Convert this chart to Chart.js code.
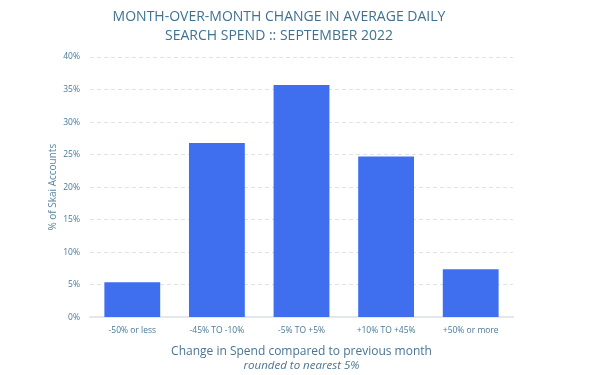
<!DOCTYPE html>
<html lang="en">
<head>
    <meta charset="UTF-8">
    <title>Month-over-month change in average daily search spend</title>
    <script src="https://cdn.jsdelivr.net/npm/chart.js"></script>
    <style>
        body {
            margin: 0;
            background: #fff;
        }
        #wrap {
            width: 600px;
            height: 375px;
        }
    </style>
</head>
<body>
    <div id="wrap">
        <canvas id="spendChart" width="600" height="375"></canvas>
    </div>

    <script>
        const categories = ['-50% or less', '-45% TO -10%', '-5% TO +5%', '+10% TO +45%', '+50% or more'];
        const shareOfAccounts = [5.4, 26.8, 35.7, 24.7, 7.4];
        const titleLines = ['MONTH-OVER-MONTH CHANGE IN AVERAGE DAILY', 'SEARCH SPEND :: SEPTEMBER 2022'];

        const textColor = '#4a7896';

        // title is drawn slightly left of the plot centre, like the original
        const titlePlugin = {
            id: 'leftTitle',
            afterDraw(chart) {
                const ctx = chart.ctx;
                ctx.save();
                ctx.fillStyle = '#3f7290';
                ctx.font = '500 14px "Open Sans", sans-serif';
                ctx.textAlign = 'center';
                ctx.textBaseline = 'middle';
                titleLines.forEach((line, i) => {
                    ctx.fillText(line, 279, 17 + i * 19);
                });
                ctx.restore();
            }
        };

        const ctx = document.getElementById('spendChart').getContext('2d');
        new Chart(ctx, {
            type: 'bar',
            data: {
                labels: categories,
                datasets: [{
                    data: shareOfAccounts,
                    backgroundColor: '#3f6fef',
                    borderWidth: 0,
                    categoryPercentage: 0.66,
                    barPercentage: 1
                }]
            },
            options: {
                responsive: false,
                animation: false,
                layout: {
                    padding: { top: 57, right: 87, left: 43, bottom: 16 }
                },
                plugins: {
                    legend: { display: false },
                    tooltip: { enabled: false }
                },
                scales: {
                    x: {
                        grid: { display: false, drawTicks: false },
                        border: { color: '#e3e8ec', width: 2 },
                        ticks: {
                            color: textColor,
                            font: { family: 'Open Sans', size: 8.5 },
                            padding: 8,
                            maxRotation: 0
                        },
                        title: {
                            display: true,
                            text: 'Change in Spend compared to previous month',
                            color: '#4a7490',
                            font: { family: 'Open Sans', size: 12 },
                            padding: { top: 1, bottom: 0 }
                        }
                    },
                    y: {
                        min: 0,
                        max: 40,
                        afterFit(scale) {
                            scale.width = 47;
                        },
                        ticks: {
                            stepSize: 5,
                            color: textColor,
                            font: { family: 'Open Sans', size: 8.5 },
                            padding: 10,
                            callback: (v) => v + '%'
                        },
                        grid: {
                            color: '#dde4ea',
                            drawTicks: false
                        },
                        border: { display: false, dash: [4, 3] },
                        title: {
                            display: true,
                            text: '% of Skai Accounts',
                            color: '#5a85a0',
                            font: { family: 'Open Sans', size: 10 },
                            padding: { top: 4, bottom: 0 }
                        }
                    }
                }
            },
            plugins: [titlePlugin, {
                id: 'subTitle',
                afterDraw(chart) {
                    const c = chart.ctx;
                    c.save();
                    c.fillStyle = '#4a7490';
                    c.font = 'italic 11.5px "Open Sans", sans-serif';
                    c.textAlign = 'center';
                    c.textBaseline = 'middle';
                    c.fillText('rounded to nearest 5%', (chart.chartArea.left + chart.chartArea.right) / 2, 366);
                    c.restore();
                }
            }]
        });
    </script>
</body>
</html>
